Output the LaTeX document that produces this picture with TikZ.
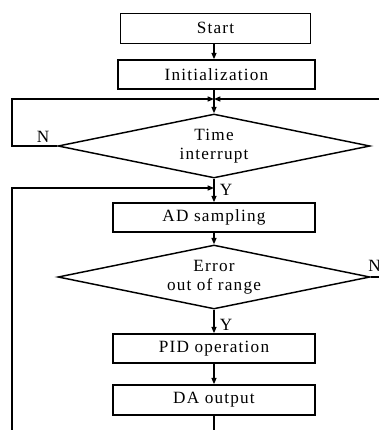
\documentclass[tikz,border=0pt]{standalone}
\usepackage{fontspec}
\setmainfont[LetterSpace=7]{Liberation Serif}
\usetikzlibrary{shapes.geometric,arrows.meta}
\tikzset{
  every node/.style={font=\fontsize{12.9pt}{14pt}\selectfont},
  procbox/.style={draw, line width=1.2pt, inner sep=0pt},
  decision/.style={draw, diamond, line width=1.1pt, inner sep=0pt, align=center,
    minimum width=234pt, minimum height=48pt, aspect=4.875},
  conn/.style={line width=1pt},
  arr/.style={conn, -{Triangle[length=4.8pt,width=3.8pt]}},
  lbl/.style={inner sep=0pt}
}
\begin{document}
\begin{tikzpicture}[x=0.75pt,y=-0.75pt]
\clip (0,0) rectangle (379,430);
\node[procbox, minimum width=142.5pt, minimum height=22.5pt] (Start) at (215.5,28.3) {Start};
\node[procbox, minimum width=147.75pt, minimum height=21.75pt] (Init) at (216.5,74.5) {Initialization};
\node[decision] (D1) at (214,146) {Time\\interrupt};
\node[procbox, minimum width=151.5pt, minimum height=21.75pt] (AD) at (214,217.5) {AD sampling};
\node[decision] (D2) at (214,277) {Error\\out of range};
\node[procbox, minimum width=151.5pt, minimum height=21.75pt] (PID) at (214,348.5) {PID operation};
\node[procbox, minimum width=151.5pt, minimum height=22.5pt] (DA) at (214,400) {DA output};

\coordinate (J1) at (214,99);
\coordinate (J2) at (214,188);
\coordinate (L1) at (12,99);
\coordinate (R1) at (379,99);
\coordinate (R2) at (379,277);
\coordinate (B1) at (214,430);
\coordinate (B2) at (12,430);

\draw[arr] (Start.south -| J1) -- (Init.north -| J1);
\draw[conn] (Init.south -| J1) -- (J1);
\draw[arr] (J1) -- (D1.north);
\draw[arr] (R1) -- (J1);
\draw[arr] (D1.west) -- (D1.west -| L1) -- (L1) -- (J1);
\draw[arr] (D1.south) -- (AD.north);
\draw[arr] (B2) -- (B2 |- J2) -- (J2);
\draw[arr] (AD.south) -- (D2.north);
\draw[conn] (D2.east) -- (R2);
\draw[arr] (D2.south) -- (PID.north);
\draw[arr] (PID.south) -- (DA.north);
\draw[conn] (DA.south) -- (B1);

\node[lbl] (N1) at (43,137) {N};
\node[lbl] (Y1) at (226,190) {Y};
\node[lbl] (Y2) at (226,325) {Y};
\node[lbl, anchor=west] (N2) at (368,266) {N};
\end{tikzpicture}
\end{document}
